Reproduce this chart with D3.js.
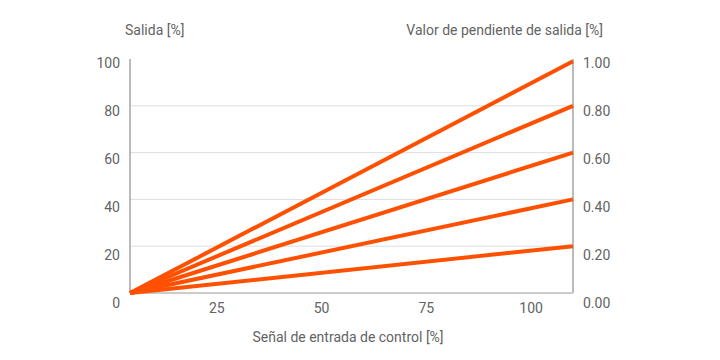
<!DOCTYPE html>
<html><head><meta charset="utf-8">
<script src="https://cdn.jsdelivr.net/npm/d3@7"></script>
<style>body{margin:0;background:#fff}svg{display:block}text{font-family:Roboto,sans-serif;fill:#636363}</style>
</head><body>
<svg id="c" width="720" height="360"></svg>
<script>
const xTicks = [25, 50, 75, 100];
const yTicks = [0, 20, 40, 60, 80, 100];
const y2Labels = ["0.00", "0.20", "0.40", "0.60", "0.80", "1.00"];
const slopes = [1.0, 0.8, 0.6, 0.4, 0.2];
const xStart = 4.3, xEnd = 110;
const endValues = [99, 80, 60, 40, 20];

const svg = d3.select("#c");
const x = d3.scaleLinear().domain([xStart, xEnd]).range([130, 573]);
const y = d3.scaleLinear().domain([0, 100]).range([293, 59]);
const yLab = d3.scaleLinear().domain([0, 100]).range([303, 63]);

// gridlines
svg.append("g").selectAll("line").data(yTicks.filter(d => d > 0 && d < 100)).join("line")
  .attr("x1", x(xStart)).attr("x2", x(xEnd))
  .attr("y1", d => y(d)).attr("y2", d => y(d))
  .attr("stroke", "#dedede").attr("stroke-width", 1);

// axes lines
svg.append("line").attr("x1", x(xStart)).attr("x2", x(xStart)).attr("y1", y(100)).attr("y2", y(0))
  .attr("stroke", "#bbb").attr("stroke-width", 2);
svg.append("line").attr("x1", x(xEnd)).attr("x2", x(xEnd)).attr("y1", y(100)).attr("y2", y(0))
  .attr("stroke", "#bbb").attr("stroke-width", 2);
svg.append("line").attr("x1", x(xStart)).attr("x2", x(xEnd)).attr("y1", y(0)).attr("y2", y(0))
  .attr("stroke", "#ccc").attr("stroke-width", 2);

// lines
const line = d3.line().x(d => x(d[0])).y(d => y(d[1]));
svg.append("g").selectAll("path").data(endValues).join("path")
  .attr("d", v => line([[xStart, 0], [xEnd, v]]))
  .attr("fill", "none").attr("stroke", "#ff5000").attr("stroke-width", 4)
  .attr("stroke-linecap", "butt");

// left labels
svg.append("g").selectAll("text").data(yTicks).join("text")
  .attr("x", 120).attr("y", d => yLab(d)).attr("dy", "0.35em")
  .attr("text-anchor", "end").attr("font-size", 14).text(d => d);
// right labels
svg.append("g").selectAll("text").data(yTicks).join("text")
  .attr("x", 583).attr("y", d => yLab(d)).attr("dy", "0.35em")
  .attr("text-anchor", "start").attr("font-size", 14).text((d, i) => y2Labels[i]);
// x labels
svg.append("g").selectAll("text").data(xTicks).join("text")
  .attr("x", d => x(d)).attr("y", 308).attr("dy", "0.35em")
  .attr("text-anchor", "middle").attr("font-size", 14).text(d => d);

// titles
svg.append("text").attr("x", 125).attr("y", 30).attr("dy", "0.35em").attr("font-size", 14).text("Salida [%]");
svg.append("text").attr("x", 603).attr("y", 30).attr("dy", "0.35em").attr("text-anchor", "end").attr("font-size", 14).text("Valor de pendiente de salida [%]");
svg.append("text").attr("x", 348).attr("y", 337).attr("dy", "0.35em").attr("text-anchor", "middle").attr("font-size", 14).text("Señal de entrada de control [%]");
</script>
</body></html>
